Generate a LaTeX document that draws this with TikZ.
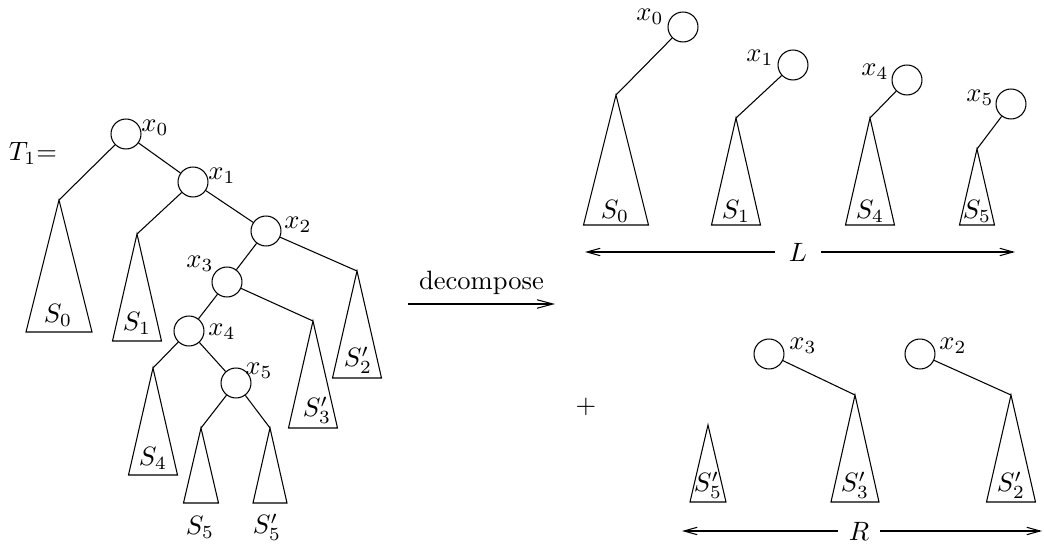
\documentclass[tikz,border=0pt]{standalone}
\usepackage{amsmath}
\usepackage{tikz}
\usetikzlibrary{arrows.meta}
\tikzset{
  treenode/.style={draw,circle,minimum size=11.3pt,inner sep=0pt},
  decarrow/.style={-{Straight Barb[length=6pt,width=3.2pt]}},
  spanarrow/.style={-{Straight Barb[length=5pt,width=2.8pt]}}
}
\newcommand{\drawsubtree}[5]{%
  \coordinate (#1) at (#2,#3);
  \draw (#1) -- ({#2-#4},#5) -- ({#2+#4},#5) -- cycle;}

\begin{document}
\begin{tikzpicture}[x=0.377pt,y=-0.377pt]
  \useasboundingbox (0,0) rectangle (1044,544);
  % the tree T_1
  \node (tname) at (33,153) {$T_1$=};
  \node[treenode] (t0) at (126,134) {};
  \node[treenode] (t1) at (193,182) {};
  \node[treenode] (t2) at (266,231) {};
  \node[treenode] (t3) at (227,282) {};
  \node[treenode] (t4) at (189,331) {};
  \node[treenode] (t5) at (236,383) {};
  \node (t0lab) at (155,128) {$x_0$};
  \node (t1lab) at (222,176) {$x_1$};
  \node (t2lab) at (298,225) {$x_2$};
  \node (t3lab) at (200,264) {$x_3$};
  \node (t4lab) at (222,332) {$x_4$};
  \node (t5lab) at (259,371) {$x_5$};
  \drawsubtree{s0}{59}{200}{33}{332}
  \drawsubtree{s1}{137}{234}{24.5}{341}
  \drawsubtree{s2}{357}{271}{24.5}{378}
  \drawsubtree{s3}{313}{321}{24.5}{428}
  \drawsubtree{s4}{153}{368}{24.5}{475}
  \drawsubtree{s5}{201}{428}{17.5}{503}
  \drawsubtree{s5p}{270}{428}{17}{503}
  \node (s0lab) at (58,315) {$S_0$};
  \node (s1lab) at (137,323) {$S_1$};
  \node (s2lab) at (358,360) {$S'_2$};
  \node (s3lab) at (317,410) {$S'_3$};
  \node (s4lab) at (153,458) {$S_4$};
  \node (s5lab) at (200,527) {$S_5$};
  \node (s5plab) at (267,527) {$S'_5$};
  \draw (t0) -- (s0);
  \draw (t0) -- (t1);
  \draw (t1) -- (s1);
  \draw (t1) -- (t2);
  \draw (t2) -- (t3);
  \draw (t2) -- (s2);
  \draw (t3) -- (t4);
  \draw (t3) -- (s3);
  \draw (t4) -- (s4);
  \draw (t4) -- (t5);
  \draw (t5) -- (s5);
  \draw (t5) -- (s5p);
  % decompose
  \coordinate (decfrom) at (408,304);
  \coordinate (decto) at (555,304);
  \draw[decarrow] (decfrom) -- (decto) node[midway,above] {decompose};
  % left pieces L
  \node[treenode] (r0) at (683,27) {};
  \node[treenode] (r1) at (793,65) {};
  \node[treenode] (r4) at (907,80) {};
  \node[treenode] (r5) at (1011,104) {};
  \node (r0lab) at (650,17) {$x_0$};
  \node (r1lab) at (760,58) {$x_1$};
  \node (r4lab) at (875,72) {$x_4$};
  \node (r5lab) at (980,98) {$x_5$};
  \drawsubtree{q0}{616}{95}{32.5}{225}
  \drawsubtree{q1}{736}{118}{24.5}{225}
  \drawsubtree{q4}{870}{118}{24.5}{225}
  \drawsubtree{q5}{977}{149}{17.5}{225}
  \node (q0lab) at (615,211) {$S_0$};
  \node (q1lab) at (736,211) {$S_1$};
  \node (q4lab) at (870,211) {$S_4$};
  \node (q5lab) at (977,211) {$S_5$};
  \draw (r0) -- (q0);
  \draw (r1) -- (q1);
  \draw (r4) -- (q4);
  \draw (r5) -- (q5);
  \node[inner sep=5pt] (L) at (798,252) {$L$};
  \coordinate (Lleft) at (585,252);
  \coordinate (Lright) at (1015,252);
  \draw[spanarrow] (L) -- (Lleft);
  \draw[spanarrow] (L) -- (Lright);
  % right pieces R
  \node (plus) at (586,407) {$+$};
  \node[treenode] (r3) at (769,354) {};
  \node[treenode] (r2) at (920,354) {};
  \node (r3lab) at (803,346) {$x_3$};
  \node (r2lab) at (953,346) {$x_2$};
  \drawsubtree{q3}{855}{395}{24}{502}
  \drawsubtree{q2}{1011}{395}{24.5}{502}
  \drawsubtree{q5p}{708}{425}{18}{502}
  \node (q3lab) at (855,485) {$S'_3$};
  \node (q2lab) at (1011,485) {$S'_2$};
  \node (q5plab) at (708,485) {$S'_5$};
  \draw (r3) -- (q3);
  \draw (r2) -- (q2);
  \node[inner sep=4pt] (R) at (859,531) {$R$};
  \coordinate (Rleft) at (682,531);
  \coordinate (Rright) at (1042,531);
  \draw[spanarrow] (R) -- (Rleft);
  \draw[spanarrow] (R) -- (Rright);
\end{tikzpicture}
\end{document}
